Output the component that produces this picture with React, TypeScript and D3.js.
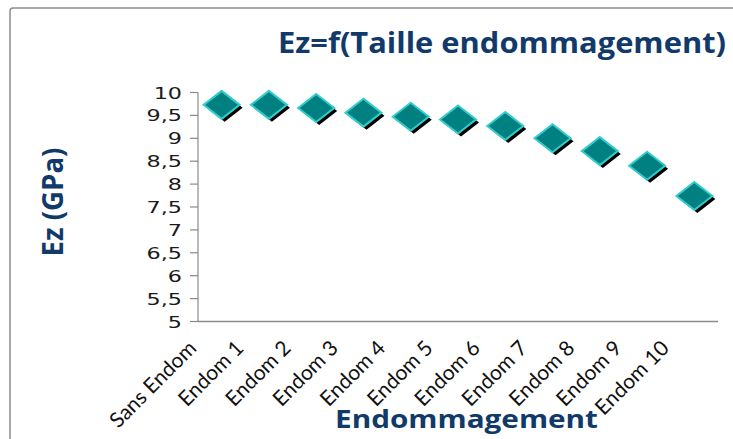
import React from "react";
import * as d3 from "d3";

const categories = [
  "Sans Endom",
  "Endom 1",
  "Endom 2",
  "Endom 3",
  "Endom 4",
  "Endom 5",
  "Endom 6",
  "Endom 7",
  "Endom 8",
  "Endom 9",
  "Endom 10",
];
const ezValues = [9.73, 9.73, 9.66, 9.56, 9.47, 9.41, 9.27, 9.0, 8.72, 8.4, 7.74];
const yTicks = [5, 5.5, 6, 6.5, 7, 7.5, 8, 8.5, 9, 9.5, 10];
const yTickLabels = ["5", "5,5", "6", "6,5", "7", "7,5", "8", "8,5", "9", "9,5", "10"];

const W = 733;
const H = 439;
const left = 198;
const right = 718;
const top = 92.5;
const bottom = 321.5;
const navy = "#113a6b";

const App = () => {
  const x = d3.scaleBand().domain(categories).range([left, right]);
  const y = d3.scaleLinear().domain([5, 10]).range([bottom, top]);

  // diamond shape, wider than tall
  const diamond = d3.line()([
    [0, -14],
    [18, 0],
    [0, 14],
    [-18, 0],
  ]) + "Z";

  return (
    <svg
      width={W}
      height={H}
      style={{ position: "absolute", left: 0, top: 0, background: "#fff" }}
    >
      <rect x={10} y={8} width={740} height={460} rx={3} fill="none" stroke="#8c8c8c" strokeWidth={1.5} />

      <text
        x={278}
        y={53}
        fontFamily="Open Sans"
        fontWeight="bold"
        fontSize={29}
        fill={navy}
        textLength={448}
        lengthAdjust="spacingAndGlyphs"
      >
        Ez=f(Taille endommagement)
      </text>

      {/* y axis */}
      <line x1={left} x2={left} y1={top} y2={bottom} stroke="#8a8a8a" strokeWidth={1.2} />
      {yTicks.map((t, i) => (
        <g key={t}>
          <line x1={left - 8} x2={left} y1={y(t)} y2={y(t)} stroke="#8a8a8a" strokeWidth={1.2} />
          <text
            transform={`translate(182,${y(t) + 6}) scale(1.35,1)`}
            textAnchor="end"
            fontFamily="DejaVu Sans"
            fontSize={16.5}
            fill="#1a1a1a"
          >
            {yTickLabels[i]}
          </text>
        </g>
      ))}

      {/* x axis */}
      <line x1={left} x2={right} y1={bottom} y2={bottom} stroke="#8a8a8a" strokeWidth={1.5} />
      {categories.map((c) => {
        const cx = (x(c) as number) + x.bandwidth() / 2;
        return (
          <text
            key={c}
            transform={`translate(${cx - 24},${bottom + 28}) rotate(-45)`}
            textAnchor="end"
            fontFamily="Lato"
            fontSize={21}
            fill="#111"
          >
            {c}
          </text>
        );
      })}

      {/* markers */}
      {categories.map((c, i) => {
        const cx = (x(c) as number) + x.bandwidth() / 2;
        const cy = y(ezValues[i]);
        return (
          <g key={c} transform={`translate(${cx},${cy})`}>
            <path d={diamond} transform="translate(3,3)" fill="#000" />
            <path d={diamond} fill="#008080" stroke="#33cccc" strokeWidth={2} />
          </g>
        );
      })}

      <text
        transform={`translate(63,202) rotate(-90)`}
        textAnchor="middle"
        fontFamily="Open Sans"
        fontWeight="bold"
        fontSize={29}
        fill={navy}
        textLength={109}
        lengthAdjust="spacingAndGlyphs"
      >
        Ez (GPa)
      </text>

      <text
        x={335}
        y={428}
        fontFamily="Open Sans"
        fontWeight="bold"
        fontSize={25}
        fill={navy}
        textLength={263}
        lengthAdjust="spacingAndGlyphs"
      >
        Endommagement
      </text>
    </svg>
  );
};

export default App;
